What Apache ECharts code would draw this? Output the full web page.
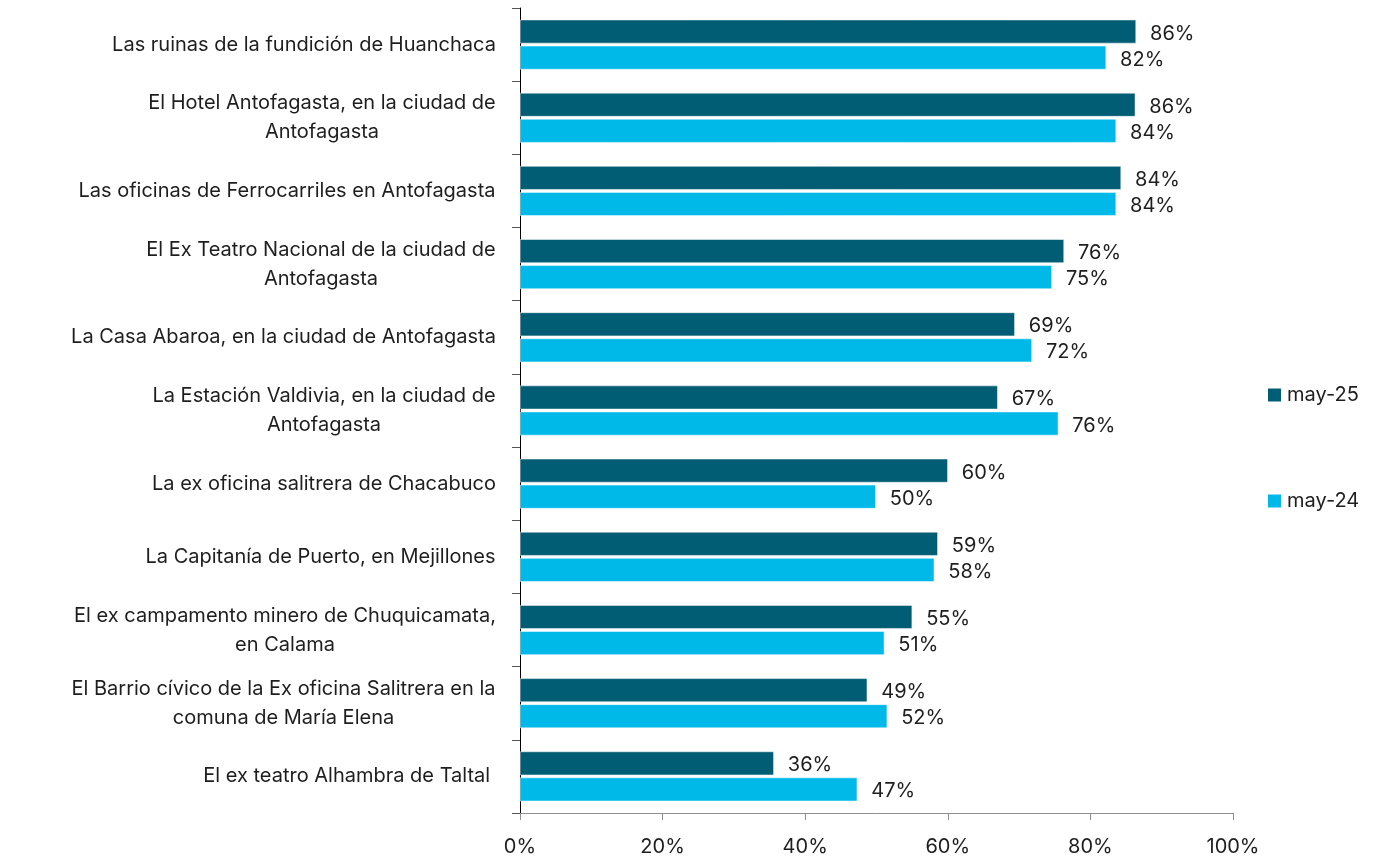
<!DOCTYPE html>
<html>
<head>
    <meta charset="utf-8" />
    <title>ECharts</title>
    <script src="https://cdn.jsdelivr.net/npm/echarts@6/dist/echarts.min.js"></script>
    <style>
        body { margin: 0; background: #fff; }
    </style>
</head>
<body>
<div id="main" style="width: 1377px;height:857px;"></div>

<script type="text/javascript">
    // categorías (de arriba hacia abajo)
    var categorias = [
        'Las ruinas de la fundición de Huanchaca',
        'El Hotel Antofagasta, en la ciudad de\nAntofagasta',
        'Las oficinas de Ferrocarriles en Antofagasta',
        'El Ex Teatro Nacional de la ciudad de\nAntofagasta',
        'La Casa Abaroa, en la ciudad de Antofagasta',
        'La Estación Valdivia, en la ciudad de\nAntofagasta',
        'La ex oficina salitrera de Chacabuco',
        'La Capitanía de Puerto, en Mejillones',
        'El ex campamento minero de Chuquicamata,\nen Calama',
        'El Barrio cívico de la Ex oficina Salitrera en la\ncomuna de María Elena',
        'El ex teatro Alhambra de Taltal '
    ];
    var may25 = [86.4, 86.3, 84.3, 76.3, 69.4, 67.0, 60.0, 58.6, 55.0, 48.7, 35.6];
    var may24 = [82.2, 83.6, 83.6, 74.6, 71.8, 75.5, 49.9, 58.1, 51.1, 51.5, 47.3];
    var ticksX = [0, 20, 40, 60, 80, 100];

    var fuente = 'Inter';
    var tam = 20;

    // medir cada etiqueta para centrar las líneas dentro del bloque
    var ctx = document.createElement('canvas').getContext('2d');
    ctx.font = tam + 'px ' + fuente;
    var rich = {};
    categorias.forEach(function (c, i) {
        var w = 0;
        c.split('\n').forEach(function (l) { w = Math.max(w, ctx.measureText(l).width); });
        rich['c' + i] = { width: Math.ceil(w) + 2, align: 'center', fontSize: tam, fontFamily: fuente, color: '#1e1e1e', lineHeight: 29 };
    });

    var myChart = echarts.init(document.getElementById('main'));
    var option = {
        textStyle: { fontFamily: fuente },
        legend: {
            orient: 'vertical',
            left: 1261,
            top: 380,
            itemWidth: 15,
            itemHeight: 15,
            itemGap: 86,
            icon: 'rect',
            textStyle: { fontSize: tam, color: '#1e1e1e', fontFamily: fuente },
            data: ['may-25', 'may-24']
        },
        grid: { left: 520, right: 144, top: 8, bottom: 44 },
        xAxis: {
            type: 'value',
            min: 0,
            max: 100,
            interval: 20,
            splitLine: { show: false },
            axisLine: { show: true, lineStyle: { color: '#8f8f8f' } },
            axisTick: { show: true, length: 7, lineStyle: { color: '#8f8f8f' } },
            axisLabel: {
                margin: 24,
                fontSize: tam,
                color: '#1e1e1e',
                formatter: function (v) { return ticksX.indexOf(v) >= 0 ? v + '%' : ''; }
            }
        },
        yAxis: {
            type: 'category',
            inverse: true,
            data: categorias,
            axisLine: { show: true, lineStyle: { color: '#000' } },
            axisTick: { show: true, length: 8, lineStyle: { color: '#555' } },
            axisLabel: {
                margin: 23,
                align: 'right',
                formatter: function (v) {
                    var i = categorias.indexOf(v);
                    return v.split('\n').map(function (l) { return '{c' + i + '|' + l + '}'; }).join('\n');
                },
                rich: rich
            }
        },
        series: [
            {
                name: 'may-25',
                type: 'bar',
                data: may25,
                barGap: '10%',
                barCategoryGap: '32%',
                itemStyle: { color: '#005d73', borderColor: '#ffffff', borderWidth: 0.5 },
                label: {
                    show: true,
                    position: 'right',
                    distance: 14,
                    fontSize: tam,
                    color: '#1e1e1e',
                    offset: [0, 2],
                    formatter: function (p) { return Math.round(p.value) + '%'; }
                }
            },
            {
                name: 'may-24',
                type: 'bar',
                data: may24,
                barGap: '10%',
                barCategoryGap: '32%',
                itemStyle: { color: '#00b9e8', borderColor: '#ffffff', borderWidth: 0.5 },
                label: {
                    show: true,
                    position: 'right',
                    distance: 14,
                    fontSize: tam,
                    color: '#1e1e1e',
                    offset: [0, 2],
                    formatter: function (p) { return Math.round(p.value) + '%'; }
                }
            }
        ]
    };
    myChart.setOption(option);
</script>
</body>
</html>
